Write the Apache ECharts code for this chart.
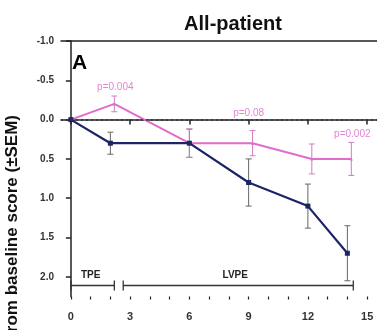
<!DOCTYPE html>
<html>
<head>
<meta charset="utf-8">
<script src="https://cdn.jsdelivr.net/npm/echarts@6/dist/echarts.min.js"></script>
<style>
  html, body { margin: 0; padding: 0; background: #fff; }
  #chart { width: 377px; height: 330px; }
</style>
</head>
<body>
<div id="chart"></div>
<script>
// Months after start of treatment
var lvpeMonths = [0, 2, 6, 9, 12, 14];
var lvpeMean   = [0, 0.3, 0.3, 0.8, 1.1, 1.7];
var lvpeSem    = [0, 0.14, 0.18, 0.3, 0.28, 0.35];

var tpeMonths  = [0, 2.2, 6, 9.2, 12.2, 14.2];
var tpeMean    = [0, -0.2, 0.3, 0.3, 0.5, 0.5];
var tpeSem     = [0, 0.1, 0.18, 0.16, 0.19, 0.21];

// p-value annotations: [x, y, text]
var pLabels = [
  [2.25, -0.41, 'p=0.004'],
  [9.0, -0.08, 'p=0.08'],
  [14.25, 0.18, 'p=0.002']
];

// Treatment period brackets: [start, end, label]
var periods = [
  [0, 2.2, 'TPE'],
  [2.65, 14.3, 'LVPE']
];
var periodY = 2.11;

var xTickLabels = [0, 3, 6, 9, 12, 15];
var xMinorTicks = [0, 1, 2, 3, 4, 5, 6, 7, 8, 9, 10, 11, 12, 13, 14, 15];
var yTickLabels = [-1.0, -0.5, 0.0, 0.5, 1.0, 1.5, 2.0];

var navy = '#1c2466';
var pink = '#e06ccc';
var font = 'Liberation Sans, Arial, sans-serif';

function pairs(xs, ys) { return xs.map(function (x, i) { return [x, ys[i]]; }); }

function errorBars(xs, ys, es) {
  return xs.map(function (x, i) { return [x, ys[i] - es[i], ys[i] + es[i]]; })
           .filter(function (d) { return d[2] > d[1]; });
}

function errorRender(color) {
  return function (params, api) {
    var x = api.value(0);
    var lo = api.coord([x, api.value(1)]);
    var hi = api.coord([x, api.value(2)]);
    var w = 3;
    var st = { stroke: color, lineWidth: 1 };
    return {
      type: 'group',
      children: [
        { type: 'line', shape: { x1: lo[0], y1: lo[1], x2: hi[0], y2: hi[1] }, style: st },
        { type: 'line', shape: { x1: lo[0] - w, y1: lo[1], x2: lo[0] + w, y2: lo[1] }, style: st },
        { type: 'line', shape: { x1: hi[0] - w, y1: hi[1], x2: hi[0] + w, y2: hi[1] }, style: st }
      ]
    };
  };
}

var chart = echarts.init(document.getElementById('chart'), null, { renderer: 'canvas' });

var axisCommon = {
  type: 'value',
  min: -0.5,
  max: 15.5,
  splitLine: { show: false }
};

chart.setOption({
  animation: false,
  backgroundColor: '#fff',
  title: {
    text: 'All-patient',
    left: 228,
    top: 9,
    textAlign: 'center',
    textStyle: { fontFamily: font, fontSize: 20, fontWeight: 'bold', color: '#111' }
  },
  grid: { left: 61, right: -2.4, top: 41, bottom: 33.5, containLabel: false },
  xAxis: [
    Object.assign({}, axisCommon, {
      position: 'bottom',
      axisLine: { show: true, lineStyle: { color: '#222', width: 1.5 } },
      axisTick: { show: true, length: 5, customValues: xTickLabels, lineStyle: { color: '#222', width: 1.5 } },
      axisLabel: {
        show: true, customValues: xTickLabels, margin: 15,
        fontFamily: font, fontSize: 11, fontWeight: 'bold', color: '#333'
      }
    }),
    Object.assign({}, axisCommon, {
      position: 'bottom',
      axisLine: { show: false },
      axisTick: { show: true, length: 3, customValues: xMinorTicks, lineStyle: { color: '#222', width: 1.2 } },
      axisLabel: { show: false }
    }),
    Object.assign({}, axisCommon, {
      position: 'top',
      axisLine: { show: true, lineStyle: { color: '#222', width: 1.5 } },
      axisTick: { show: false },
      axisLabel: { show: false }
    })
  ],
  yAxis: {
    type: 'value',
    inverse: true,
    min: -1.0,
    max: 2.25,
    splitLine: { show: false },
    axisLine: { show: true, lineStyle: { color: '#222', width: 1.5 } },
    axisTick: { show: true, length: 5, customValues: yTickLabels, lineStyle: { color: '#222', width: 1.5 } },
    axisLabel: {
      customValues: yTickLabels, margin: 7,
      formatter: function (v) { return v.toFixed(1); },
      fontFamily: font, fontSize: 10, fontWeight: 'bold', color: '#333'
    }
  },
  graphic: [
    {
      type: 'text',
      x: 12, y: 115,
      rotation: Math.PI / 2,
      style: {
        text: 'Change from baseline score (±SEM)',
        font: 'bold 17px ' + font,
        fill: '#111',
        textAlign: 'right',
        textVerticalAlign: 'middle'
      }
    },
    {
      type: 'text',
      x: 72, y: 53,
      style: {
        text: 'A',
        font: 'bold 21px ' + font,
        fill: '#000'
      }
    }
  ],
  series: [
    {
      name: 'baseline',
      type: 'line',
      data: [],
      markLine: {
        silent: true,
        symbol: 'none',
        label: { show: false },
        lineStyle: { color: '#333', type: [2, 3], width: 1.5 },
        data: [{ yAxis: 0 }]
      }
    },
    {
      name: 'LVPE error',
      type: 'custom',
      renderItem: errorRender('#666'),
      data: errorBars(lvpeMonths, lvpeMean, lvpeSem),
      z: 2
    },
    {
      name: 'TPE error',
      type: 'custom',
      renderItem: errorRender('#cf7cc4'),
      data: errorBars(tpeMonths, tpeMean, tpeSem),
      z: 2
    },
    {
      name: 'TPE',
      type: 'line',
      data: pairs(tpeMonths, tpeMean),
      symbol: 'triangle',
      symbolSize: 3,
      lineStyle: { color: pink, width: 2 },
      itemStyle: { color: pink },
      z: 3
    },
    {
      name: 'LVPE',
      type: 'line',
      data: pairs(lvpeMonths, lvpeMean),
      symbol: 'rect',
      symbolSize: 5,
      lineStyle: { color: navy, width: 2.2 },
      itemStyle: { color: navy },
      z: 4
    },
    {
      name: 'p-values',
      type: 'custom',
      data: pLabels.map(function (p) { return [p[0], p[1]]; }),
      renderItem: function (params, api) {
        var pt = api.coord([api.value(0), api.value(1)]);
        return {
          type: 'text',
          x: pt[0], y: pt[1],
          style: {
            text: pLabels[params.dataIndex][2],
            font: '10px ' + font,
            fill: '#e385d4',
            textAlign: 'center',
            textVerticalAlign: 'middle'
          }
        };
      },
      z: 5
    },
    {
      name: 'periods',
      type: 'custom',
      data: periods.map(function (p) { return [p[0], p[1], periodY]; }),
      renderItem: function (params, api) {
        var a = api.coord([api.value(0), api.value(2)]);
        var b = api.coord([api.value(1), api.value(2)]);
        var st = { stroke: '#333', lineWidth: 1.3 };
        var c = 5;
        return {
          type: 'group',
          children: [
            { type: 'line', shape: { x1: a[0], y1: a[1], x2: b[0], y2: b[1] }, style: st },
            { type: 'line', shape: { x1: a[0], y1: a[1] - c, x2: a[0], y2: a[1] + c }, style: st },
            { type: 'line', shape: { x1: b[0], y1: b[1] - c, x2: b[0], y2: b[1] + c }, style: st },
            {
              type: 'text',
              x: params.dataIndex === 0 ? a[0] + 10 : (a[0] + b[0]) / 2 - 3,
              y: a[1] - 10,
              style: {
                text: periods[params.dataIndex][2],
                font: 'bold 10px ' + font,
                fill: '#222',
                textAlign: params.dataIndex === 0 ? 'left' : 'center',
                textVerticalAlign: 'middle'
              }
            }
          ]
        };
      },
      z: 5
    }
  ]
});
</script>
</body>
</html>
